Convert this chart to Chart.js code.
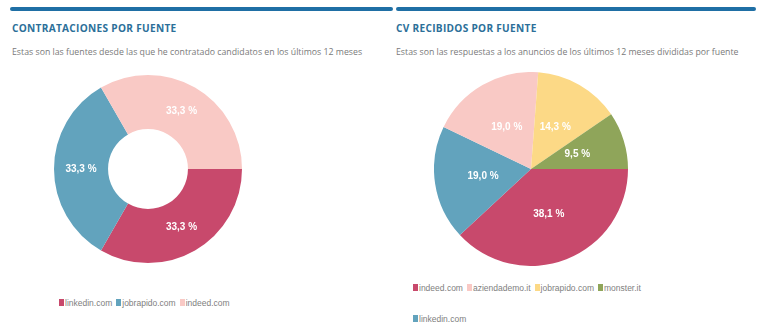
<!DOCTYPE html>
<html>
<head>
<meta charset="utf-8">
<script src="https://cdn.jsdelivr.net/npm/chart.js@4"></script>
<style>
  html, body { margin: 0; padding: 0; background: #fff; width: 768px; height: 335px; overflow: hidden; position: relative; font-family: "Open Sans", sans-serif; }
  .bar { position: absolute; top: 7px; height: 4px; background: #1f6fa5; border-radius: 2px; }
  .title { position: absolute; top: 21px; font-weight: 700; font-size: 10.1px; letter-spacing: 0.3px; color: #2c6f99; white-space: nowrap; }
  .sub { position: absolute; top: 46px; font-size: 8.75px; color: #7a7a7a; white-space: nowrap; }
  .cv { position: absolute; }
  .legend { position: absolute; font-family: "Liberation Sans", Arial, sans-serif; font-size: 8.5px; color: #808080; display: flex; flex-wrap: wrap; row-gap: 20px; }
  .legend .it { display: flex; align-items: center; margin-right: 4px; height: 11px; white-space: nowrap; }
  .legend .bx { width: 5px; height: 7px; margin-right: 1px; display: inline-block; }
</style>
</head>
<body>
<div class="bar" style="left:10px;width:383px"></div>
<div class="bar" style="left:396px;width:360px"></div>
<div class="title" style="left:12px">CONTRATACIONES POR FUENTE</div>
<div class="title" style="left:396px">CV RECIBIDOS POR FUENTE</div>
<div class="sub" style="left:12px">Estas son las fuentes desde las que he contratado candidatos en los últimos 12 meses</div>
<div class="sub" style="left:396px">Estas son las respuestas a los anuncios de los últimos 12 meses divididas por fuente</div>

<div class="cv" style="left:54px;top:75px;width:188px;height:188px"><canvas id="c1"></canvas></div>
<div class="cv" style="left:434px;top:72px;width:194px;height:194px"><canvas id="c2"></canvas></div>
<div class="legend" id="lg1" style="left:59px;top:297px;width:300px"></div>
<div class="legend" id="lg2" style="left:413px;top:282px;width:245px"></div>

<script>
// ---- data ----
const hiresLabels = ["linkedin.com", "jobrapido.com", "indeed.com"];
const hiresValues = [1, 1, 1];
const hiresColors = ["#c8496c", "#62a3bd", "#f9c9c5"];

const cvLabels = ["indeed.com", "linkedin.com", "aziendademo.it", "jobrapido.com", "monster.it"];
const cvValues = [8, 4, 4, 3, 2];
const cvColors = ["#c8496c", "#62a3bd", "#f9c9c5", "#fcd986", "#8fa55a"];
const cvLegendOrder = ["indeed.com", "aziendademo.it", "jobrapido.com", "monster.it", "linkedin.com"];

// percent labels plugin
const pctLabels = {
  id: 'pctLabels',
  afterDatasetsDraw(chart) {
    const ctx = chart.ctx;
    const ds = chart.data.datasets[0];
    const total = ds.data.reduce((a, b) => a + b, 0);
    const meta = chart.getDatasetMeta(0);
    ctx.save();
    ctx.font = 'bold 10px "Liberation Sans", Arial, sans-serif';
    ctx.fillStyle = '#ffffff';
    ctx.textAlign = 'center';
    ctx.textBaseline = 'middle';
    meta.data.forEach((arc, i) => {
      const p = arc.tooltipPosition();
      const txt = (ds.data[i] / total * 100).toFixed(1).replace('.', ',') + ' %';
      ctx.fillText(txt, p.x, p.y);
    });
    ctx.restore();
  }
};

function makeChart(id, type, labels, values, colors, cutout) {
  return new Chart(document.getElementById(id), {
    type: type,
    data: { labels: labels, datasets: [{ data: values, backgroundColor: colors, borderWidth: 0, hoverOffset: 0 }] },
    options: {
      responsive: true,
      maintainAspectRatio: false,
      animation: false,
      rotation: 90,
      cutout: cutout,
      layout: { padding: 0 },
      plugins: { legend: { display: false }, tooltip: { enabled: false } },
      events: []
    },
    plugins: [pctLabels]
  });
}

makeChart('c1', 'doughnut', hiresLabels, hiresValues, hiresColors, '42.5%');
makeChart('c2', 'pie', cvLabels, cvValues, cvColors, 0);

function buildLegend(elId, order, labels, colors) {
  const el = document.getElementById(elId);
  order.forEach(name => {
    const i = labels.indexOf(name);
    const it = document.createElement('span');
    it.className = 'it';
    const bx = document.createElement('span');
    bx.className = 'bx';
    bx.style.background = colors[i];
    it.appendChild(bx);
    it.appendChild(document.createTextNode(name));
    el.appendChild(it);
  });
}
buildLegend('lg1', hiresLabels, hiresLabels, hiresColors);
buildLegend('lg2', cvLegendOrder, cvLabels, cvColors);
</script>
</body>
</html>
